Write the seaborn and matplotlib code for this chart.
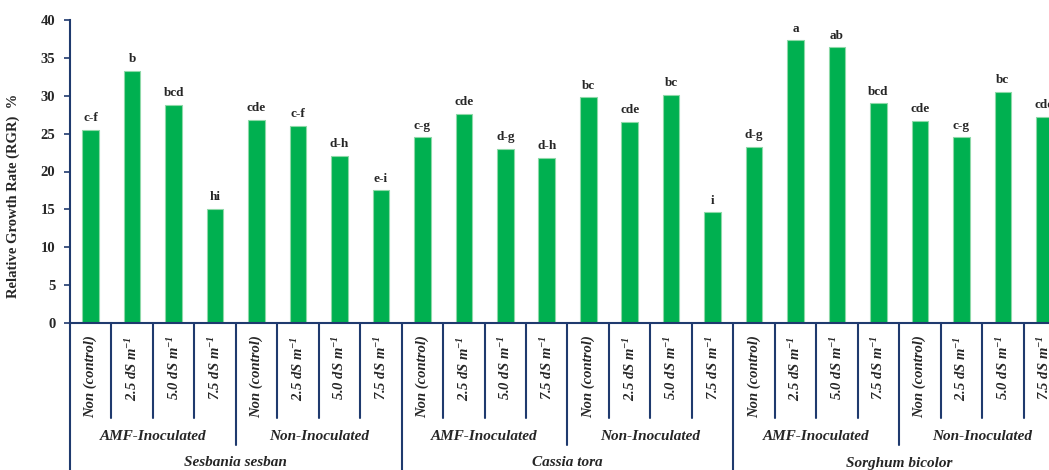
import matplotlib
matplotlib.use("Agg")
import matplotlib.pyplot as plt
import matplotlib.transforms as mtransforms
import seaborn as sns
import pandas as pd

# ---- data ----
species = ["Sesbania sesban", "Cassia tora", "Sorghum bicolor"]
inoculation = ["AMF-Inoculated", "Non-Inoculated"]
salinity = ["Non (control)", "2.5 dS m$^{-1}$", "5.0 dS m$^{-1}$", "7.5 dS m$^{-1}$"]
rgr = [25.5, 33.3, 28.8, 15.05, 26.8, 26.05, 22.1, 17.5,
       24.5, 27.6, 23.0, 21.8, 29.8, 26.6, 30.1, 14.6,
       23.3, 37.3, 36.4, 29.0, 26.7, 24.5, 30.5, 27.2]
letters = ["c-f", "b", "bcd", "hi", "cde", "c-f", "d-h", "e-i",
           "c-g", "cde", "d-g", "d-h", "bc", "cde", "bc", "i",
           "d-g", "a", "ab", "bcd", "cde", "c-g", "bc", "cde"]

n = len(rgr)
tick_labels = [salinity[i % 4] for i in range(n)]
df = pd.DataFrame({"pos": list(range(n)), "rgr": rgr})

sns.set_style("white")
plt.rcParams["font.family"] = ["Liberation Serif", "DejaVu Serif"]
plt.rcParams["font.weight"] = "bold"
plt.rcParams["mathtext.fontset"] = "custom"
plt.rcParams["mathtext.rm"] = "Liberation Serif:bold:italic"
plt.rcParams["mathtext.it"] = "Liberation Serif:bold:italic"
plt.rcParams["mathtext.bf"] = "Liberation Serif:bold:italic"

navy = "#1F3A6E"
green = "#00B050"

fig = plt.figure(figsize=(10.49, 4.70), dpi=100)
ax = fig.add_axes([70 / 1049, 1 - 323 / 470, 995 / 1049, 303 / 470])

sns.barplot(data=df, x="pos", y="rgr", color=green, saturation=1, width=0.4,
            edgecolor="#8ED9A8", linewidth=0.8, ax=ax, native_scale=False)

ax.set_ylim(0, 40)
ax.set_xlim(-0.5, n - 0.5)
ax.set_yticks(range(0, 41, 5))
ax.tick_params(axis="y", direction="out", length=4, width=1.2, color=navy,
               labelsize=10.5, pad=6.5, left=True)
for lab in ax.get_yticklabels():
    lab.set_fontweight("bold")

ax.set_xticks(range(n))
ax.set_xticklabels(tick_labels, rotation=90, fontsize=10.5, fontstyle="italic",
                   fontweight="bold", va="top", ha="center")
ax.tick_params(axis="x", length=0, pad=9)

for s in ["top", "right"]:
    ax.spines[s].set_visible(False)
for s in ["left", "bottom"]:
    ax.spines[s].set_color(navy)
    ax.spines[s].set_linewidth(1.5)

ax.set_xlabel("")
ax.set_ylabel("Relative Growth Rate (RGR)  %", fontsize=10.5, fontweight="bold")
ax.yaxis.set_label_coords(-0.05, 0.42)

# bar letters
ax.bar_label(ax.containers[0], labels=letters, padding=4, fontsize=9.5,
             fontweight="bold")

# hierarchical separators
trans = mtransforms.blended_transform_factory(ax.transData, ax.transAxes)
y1 = (323 - 418) / 303
y2 = (323 - 445) / 303
y3 = -0.6
for i in range(1, n + 1):
    b = i - 0.5
    if i % 8 == 0:
        yb = y3
    elif i % 4 == 0:
        yb = y2
    else:
        yb = y1
    ax.plot([b, b], [0, yb], transform=trans, color=navy, lw=1.5, clip_on=False)
ax.plot([-0.5, -0.5], [0, y3], transform=trans, color=navy, lw=1.5, clip_on=False)

# group labels
yl2 = (323 - 437) / 303
yl3 = (323 - 463) / 303
for g in range(6):
    ax.text(g * 4 + 1.5, yl2, inoculation[g % 2], transform=trans, ha="center",
            va="center", fontsize=11, fontstyle="italic", fontweight="bold")
for s in range(3):
    ax.text(s * 8 + 3.5, yl3, species[s], transform=trans, ha="center",
            va="center", fontsize=11, fontstyle="italic", fontweight="bold")

fig.savefig("out.png", dpi=100)
